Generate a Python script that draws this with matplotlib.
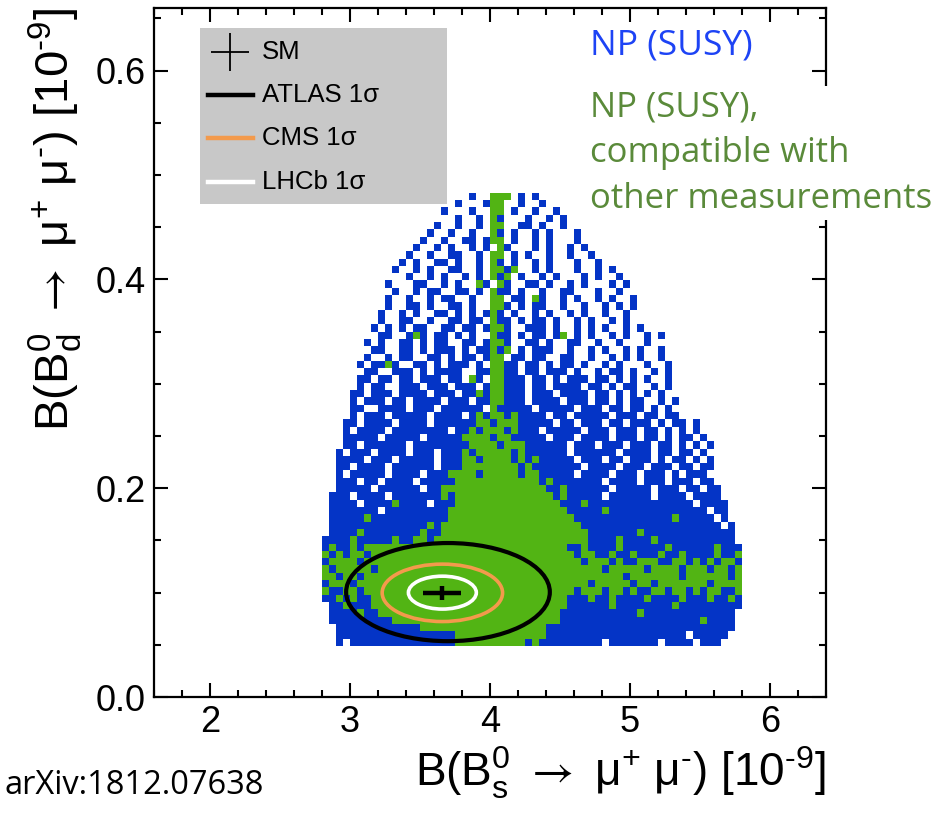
import numpy as np
import matplotlib
matplotlib.use("Agg")
import matplotlib.pyplot as plt
from matplotlib.colors import ListedColormap
from matplotlib.patches import Ellipse, Rectangle
from matplotlib.lines import Line2D

plt.rcParams["font.family"] = ["Liberation Sans", "DejaVu Sans"]
plt.rcParams["mathtext.fontset"] = "custom"
plt.rcParams["mathtext.rm"] = "Liberation Sans"
plt.rcParams["mathtext.it"] = "Liberation Sans:italic"
plt.rcParams["mathtext.sf"] = "STIXGeneral"

# model points on a grid of cells
# x = Bs -> mu mu, y = Bd -> mu mu (units 1e-9); '.' none, 'b' NP (SUSY), 'g' NP compatible
cell_x0, cell_dx = 2.80, 0.05
cell_y0, cell_dy = 0.483, 0.007
n_cols = 60

row_start = [21, 19, 17, 17, 16, 15, 14, 13, 12, 11,
             10, 10, 9, 9, 9, 8, 8, 7, 7, 7,
             6, 6, 6, 5, 5, 5, 5, 4, 4, 4,
             4, 3, 3, 3, 3, 2, 2, 2, 2, 2,
             2, 1, 1, 1, 1, 1, 1, 0, 0, 0,
             0, 0, 0, 0, 0, 0, 0, 0, 0, 0,
             0, 0]

row_cells = [
    "b..ggg.b.b",
    "b...bgg..b..b",
    "b...b..gg.b..b..b",
    "..b..b.gb...b..b.b",
    "b..b..b.gg..bb.b..b.",
    "b..b..b..gb.b..b.b...b",
    "b..b..bb.bgg.b..b.b...b.",
    "b..b.b..b.b.gb...b.b..b.b",
    "b..b..bb..b.gg.b.b..b..b..b.",
    "b.b..bb.b..b.gb.b..b.b...b..b.",
    "b..b.b..bb..b.ggbg..b.b...b..b.b",
    "..b..b.b..b.b.gbg.b..b.b...b.b..b",
    "b...bb..b.b..gb.gb..bb.b..b.b...b.b",
    ".b..b.bb..bb.b.gbb.b..b..bb...b..b.",
    "b..b..b.bb..b..gg.bb.gb..b.b..b.b..b.",
    ".b..bb.b..bb.b..ggb.b.bb..b..b..b.b.b",
    "b..b.b..bb.b.b.bgb.b..b.b..b.b..b..b.",
    ".b..bb..b..bb.bb.gbb.b.bb.b..b.b..b.b",
    "b.b.b.bb..bb.bb.bggb..bbb.b..b.b.b..b.b",
    ".bb..bgb.bb.b.b..gbb.b.bb.bg.b.b..b.b..b.b",
    "b.b..bb.b.bb..bb.bggb..bb.b..bb..b..b...b.",
    ".bb..bb.b.bbb.b.bbgbg.b.bbb..b..b.b..b.b..b",
    "b..b.bb..bb.b.bb.bgg.bb.bb..bb..b..b.b.b..b",
    "b.bbgb..bb.b.bbb.b.ggbb.bb.b.bb.b..b.b...b..b",
    ".bb..bbb.b.bbbb..bbggbb.bb.bbb.b..b.bb.b..b.b",
    "bb.bb.bb.bbb.bb.gb.ggbbb.bb.b.bbb.bb.b.b.b..b",
    "b.bb..bbb.bbb.bbb.bggbbb.bb.bbbb.bb.b.bb..b.b",
    "bb.bbb.bbbb.bbb.bbgbggbbb.bbb.bbbb.bb.b.b.b.b",
    "b.bbb.bb.bbbb.bbb.bbggbbb.bbbb.bbb.bb.b.bb..b.b",
    "bb..bbbb.bbb.bbbbbb.gbbbbb.bbbbb.bbb.bb.bb.b.b",
    "b.bbb.bbbbb.bbbb.bgbggbgbbbb.bb.bbbbb.bbb.bb.bb",
    "bb.bbbb.bbbb.bbbbbbggbgggbbbbb.bb.bbb.bb.bbb.b.bb.b",
    "b.bbbb.bbbbbbbb.bbgbgggbgbbb.bbbbb.bbb.bbb.bb.b.b.b",
    "bbbbb.bbbbb.bbbbbggggbggbbbbb.bbb.bbbb.bbb.bb.b.bb.b",
    "bb.bbbbbb.bbbbbbbbggggbgggbbbbbb.bbb.bbb.bbb.bb.b.b.b",
    "b.bbb.bbbb.bbb.bbbgbgggggbgbbbbbb.bbbbbb.bbbb.bb.bb.b",
    "bbbb.bbb.bbbbb.bbbggbggggbgbgbbbbb.bbb.bb.bbb.b.bb.b.b",
    "bb.bbbb.bbbbbb.bbbggggggggbgbbbbbbb.bbbb.bbb.bbb.bb.bb",
    "b.bbbbb.bbbb.bbbggggbgggggbggbbbbb.bbbb.bbb.bbb.b.bbb",
    "bbb.bb.bbbb.bbbbbggggggggggggbgbbbbbbb.bbbb.bbb.bbb.bb",
    "bbbbb.bbbbbb.bbgggggggggggggggbbgbbbbbb.bbbbb.bbb.bb.bb",
    "bbb.bbbb.bbbbbbbgbggggggggggggggbgbbbbb.bbbbbb.bbbb.bbbb",
    "bbbb.bbbbgbbbb.bbb" "ggggggggggggggg" "bbbgbbbbbbbbbbbbbbb.bbbb",
    "bbbbbbb.bbbbbbbbb" "ggggggggggggggggg" "bbbbbgbbbbbbbbbbbbbb.bb",
    "bbbbbgbbbbbbbbbbb" "gggggggggggggggggg" "bbbbbbbbbbbbbbgbbbbb.b",
    "bbbbbbbbbbbbbbgb" "gggggggggggggggggggg" "bbbbbbbbbbbbbbbbbbbb.b",
    "bbbbgbbbbbbbbgbb" "ggggggggggggggggggggg" "bbbbbbbgbbbbbbbbbbbbb",
    "bbbbgbbbbbgbbggbg" "ggggggggggggggggggggg" "bbbbgbbbbgbbbbbbbbbbb",
    "bgbbgbggg" "gggggggggggggggggggggggggg" "bbgbbbbgbbbbbbgbbbbbbgbbb",
    "gbgbggbgg" "gggggggggggggggggggggggggg" "gbggbbgbbgbbbgbbgbbbbgbbg",
    "bggggbggg" "gggggggggggggggggggggggggg" "ggbgggbgbbgggbbggbgbgbggb",
    "gbgggggbg" "gggggggggggggggggggggggggg" "gggggbgggggbggggbgggbggbg",
    "ggbggbggg" "gggggggggggggggggggggggggg" "ggggggggbgggggggbggggggbg",
    "bgggbgggg" "gggggggggggggggggggggggggg" "gggbgggggbggbgggggggbgggg",
    "gbbggbggg" "gggggggggggggggggggggggggg" "gbgggbggbgbbggbggbgbggbbg",
    "bbgbgbbgg" "gggggggggggggggggggggggggg" "bbbgbbgbbbbgbbbbgbbbgbbgb",
    ".bbgbbbgg" "gggggggggggggggggggggggggg" "bbbbbbgbbbbbbbbgbbbbbbbbb",
    ".bbbbgbbg" "gggggggggggggggggggggggggb" "bbbbbbbbbbgbbbbbbbbbbbbb",
    ".bbbbbbbb" "bggggggggggggggggggggggggb" "bbbbbbbbbbbbbbbbbbbgbbbb",
    "..bbbbbbb" "bbbbbggggggggggggggggggbbb" "bbbbbbbbbbbbbbbbbbbbbbbb",
    "..bbbbbbb" "bbbbbbbbbbgggggggggggggbbb" "bbbbbbbbbbbbbbbbb.bbbbb",
    "..b.bbbbb" "bbbbbbbbbbggggggggggbgbbbb" "bbbbb.bbbbbbb.bbbb.bbb",
]

# 1 sigma contours: centre x, centre y, full width, full height
contour_names = ["ATLAS 1σ", "CMS 1σ", "LHCb 1σ"]
contour_x = [3.70, 3.66, 3.66]
contour_y = [0.1005, 0.0998, 0.1000]
contour_w = [1.455, 0.86, 0.485]
contour_h = [0.094, 0.055, 0.0315]
contour_colors = ["black", "#f39a4c", "white"]

sm_x, sm_y = 3.66, 0.0998
sm_xerr, sm_yerr = 0.135, 0.0065

blue = "#0434c6"
green = "#52b414"

fig = plt.figure(figsize=(9.4, 8.14), dpi=100)
ax = fig.add_axes([0.1638, 0.1437, 0.7149, 0.8465])

grid = np.full((len(row_cells), n_cols), np.nan)
for r, (s, cells) in enumerate(zip(row_start, row_cells)):
    for k, c in enumerate(cells):
        if s + k >= n_cols:
            break
        if c == "b":
            grid[r, s + k] = 0
        elif c == "g":
            grid[r, s + k] = 1

x_edges = cell_x0 + cell_dx * np.arange(n_cols + 1)
y_edges = cell_y0 - cell_dy * np.arange(len(row_cells) + 1)
ax.pcolormesh(x_edges, y_edges, np.ma.masked_invalid(grid),
              cmap=ListedColormap([blue, green]), vmin=0, vmax=1, zorder=1)

lws = [3.0, 2.6, 2.6]
for x, y, w, h, col, lw in zip(contour_x, contour_y, contour_w, contour_h, contour_colors, lws):
    ax.add_patch(Ellipse((x, y), w, h, fill=False, edgecolor=col, lw=lw, zorder=3))

ax.errorbar(sm_x, sm_y, xerr=sm_xerr, yerr=sm_yerr, fmt="none", ecolor="black",
            elinewidth=3.2, capsize=0, zorder=4)

ax.set_xlim(1.6, 6.4)
ax.set_ylim(0.0, 0.66)
ax.set_xticks([2, 3, 4, 5, 6])
ax.set_xticks(np.arange(1.6, 6.41, 0.2), minor=True)
ax.set_yticks([0.0, 0.2, 0.4, 0.6])
ax.set_yticks(np.arange(0.0, 0.66, 0.05), minor=True)
ax.set_yticklabels(["0.0", "0.2", "0.4", "0.6"])
ax.tick_params(which="both", direction="in", top=True, right=True, width=1.5,
               labelsize=26)
ax.tick_params(which="major", length=10)
ax.tick_params(which="minor", length=5)
ax.tick_params(axis="x", pad=6)
ax.tick_params(axis="y", pad=6)
for sp in ax.spines.values():
    sp.set_linewidth(1.6)

ax.set_xlabel("B(B$^{0}_{\\mathrm{s}}$ $\\mathsf{\\rightarrow}$ μ$^{+}$ μ$^{\\text{-}}$) [10$^{\\text{-}9}$]",
              fontsize=33, loc="right", labelpad=3)
ax.set_ylabel("B(B$^{0}_{\\mathrm{d}}$ $\\mathsf{\\rightarrow}$ μ$^{+}$ μ$^{\\text{-}}$) [10$^{\\text{-}9}$]",
              fontsize=34, loc="top", labelpad=8)

# legend box drawn by hand in axes coordinates
ax.add_patch(Rectangle((0.0685, 0.7155), 0.3675, 0.2555, transform=ax.transAxes,
                       facecolor="#c8c8c8", edgecolor="none", zorder=5))
legend_y = [0.936, 0.8737, 0.8113, 0.7475]
ax.add_line(Line2D([0.113], [legend_y[0]], marker="+", markersize=28, mew=1.3,
                   color="black", transform=ax.transAxes, zorder=6))
ax.text(0.1607, legend_y[0], "SM", transform=ax.transAxes, fontsize=18.5,
        va="center", zorder=6)
for ly, name, col in zip(legend_y[1:], contour_names, contour_colors):
    ax.add_line(Line2D([0.0804, 0.1473], [ly, ly], color=col, lw=3.2,
                       transform=ax.transAxes, zorder=6))
    ax.text(0.1607, ly, name, transform=ax.transAxes, fontsize=18.5,
            va="center", zorder=6)

fig.text(590 / 940, 1 - 46 / 814, "NP (SUSY)", color="#1d43f5", fontsize=25.5,
         family=["Open Sans", "DejaVu Sans"], va="center", ha="left")
fig.text(590 / 940, 1 - 153 / 814, "NP (SUSY),\ncompatible with\nother measurements",
         color="#5a8a3a", fontsize=25, family=["Open Sans", "DejaVu Sans"],
         va="center", ha="left", linespacing=1.45,
         bbox=dict(facecolor="white", edgecolor="none", pad=3))
fig.text(5 / 940, 1 - 785 / 814, "arXiv:1812.07638", color="black", fontsize=23.5,
         family=["Open Sans", "DejaVu Sans"], va="center", ha="left")

fig.savefig("out.png", dpi=100)
